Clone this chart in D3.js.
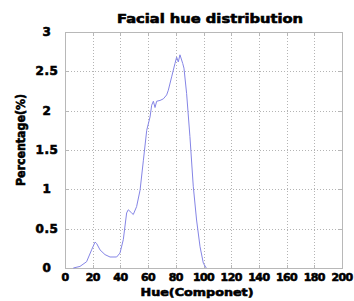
<!DOCTYPE html>
<html>
<head>
<meta charset="utf-8">
<script src="https://cdn.jsdelivr.net/npm/d3@7"></script>
<style>
  body { margin: 0; background: #fff; }
  text { font-family: "DejaVu Sans", sans-serif; font-weight: bold; fill: #000; stroke: #000; stroke-width: 0.6; }
</style>
</head>
<body>
<svg id="chart" width="354" height="301"></svg>
<script>
// hue component values and percentage
const hue = [6, 10.8, 15.6, 19.2, 21.7, 22.9, 25.3, 28.9, 32.5, 37.3, 39.7, 42.1, 44.5, 45.7, 48.1, 49.3,
  51.7, 54.2, 56.6, 59, 61.4, 62.6, 63.8, 65, 66.2, 68.6, 71, 73.4, 74.6, 77, 79.4, 80.6, 81.8, 83,
  85, 85.9, 87.8, 90.2, 92.6, 95, 97.5, 99.9, 102];
const pct = [0, 0.02, 0.08, 0.23, 0.33, 0.31, 0.23, 0.17, 0.14, 0.14, 0.19, 0.36, 0.70, 0.74, 0.70, 0.68,
  0.78, 0.99, 1.37, 1.75, 1.92, 2.07, 2.12, 2.04, 2.12, 2.13, 2.15, 2.2, 2.26, 2.43, 2.6, 2.68, 2.62, 2.71,
  2.6, 2.54, 2.22, 1.67, 1.04, 0.61, 0.27, 0.06, 0];
const xTicks = [0, 20, 40, 60, 80, 100, 120, 140, 160, 180, 200];
const yTicks = [0, 0.5, 1, 1.5, 2, 2.5, 3];

const svg = d3.select('#chart'),
      plotLeft = 65, plotRight = 342, plotTop = 32, plotBottom = 268;

const x = d3.scaleLinear().domain([0, 200]).range([plotLeft, plotRight]),
      y = d3.scaleLinear().domain([0, 3]).range([plotBottom, plotTop]);

const grid = svg.append('g')
  .attr('stroke', '#b4b4b4')
  .attr('stroke-width', 1)
  .attr('stroke-dasharray', '1,2');

grid.selectAll('.gx')
  .data(xTicks.slice(1, -1))
  .enter().append('line')
  .attr('x1', (d) => Math.round(x(d)) + 0.5)
  .attr('x2', (d) => Math.round(x(d)) + 0.5)
  .attr('y1', plotTop)
  .attr('y2', plotBottom);

grid.selectAll('.gy')
  .data(yTicks.slice(1, -1))
  .enter().append('line')
  .attr('y1', (d) => Math.round(y(d)) + 0.5)
  .attr('y2', (d) => Math.round(y(d)) + 0.5)
  .attr('x1', plotLeft)
  .attr('x2', plotRight);

// frame
svg.append('rect')
  .attr('x', plotLeft + 0.5)
  .attr('y', plotTop + 0.5)
  .attr('width', plotRight - plotLeft)
  .attr('height', plotBottom - plotTop)
  .attr('fill', 'none')
  .attr('stroke', '#b8b8b8');

// inner ticks
const ticks = svg.append('g').attr('stroke', '#b8b8b8');
ticks.selectAll('.tx')
  .data(xTicks)
  .enter().append('path')
  .attr('d', (d) => {
    const px = Math.round(x(d)) + 0.5;
    return `M${px},${plotBottom}v-3M${px},${plotTop}v3`;
  });
ticks.selectAll('.ty')
  .data(yTicks)
  .enter().append('path')
  .attr('d', (d) => {
    const py = Math.round(y(d)) + 0.5;
    return `M${plotLeft},${py}h3M${plotRight},${py}h-3`;
  });

const line = d3.line()
  .x((d, i) => x(hue[i]))
  .y((d) => y(d));

svg.append('path')
  .datum(pct)
  .attr('fill', 'none')
  .attr('stroke', '#8585e6')
  .attr('stroke-width', 1)
  .attr('d', line);

// tick labels
svg.selectAll('.xl')
  .data(xTicks)
  .enter().append('text')
  .attr('x', (d) => x(d))
  .attr('y', 281)
  .attr('text-anchor', 'middle')
  .attr('font-size', 11)
  .attr('letter-spacing', -0.6)
  .text((d) => d);

svg.selectAll('.yl')
  .data(yTicks)
  .enter().append('text')
  .attr('x', 47)
  .attr('y', (d) => y(d) + 4)
  .attr('text-anchor', 'middle')
  .attr('font-size', 12)
  .attr('letter-spacing', 0.5)
  .text((d) => d);

svg.append('text')
  .attr('x', 210)
  .attr('y', 23)
  .attr('text-anchor', 'middle')
  .attr('font-size', 12)
  .attr('textLength', 186)
  .attr('lengthAdjust', 'spacingAndGlyphs')
  .text('Facial hue distribution');

svg.append('text')
  .attr('x', 197)
  .attr('y', 296)
  .attr('text-anchor', 'middle')
  .attr('font-size', 11)
  .attr('textLength', 113)
  .attr('lengthAdjust', 'spacingAndGlyphs')
  .text('Hue(Componet)');

svg.append('text')
  .attr('transform', 'translate(25,140) rotate(-90)')
  .attr('text-anchor', 'middle')
  .attr('font-size', 11.5)
  .attr('textLength', 92)
  .attr('lengthAdjust', 'spacingAndGlyphs')
  .text('Percentage(%)');
</script>
</body>
</html>
